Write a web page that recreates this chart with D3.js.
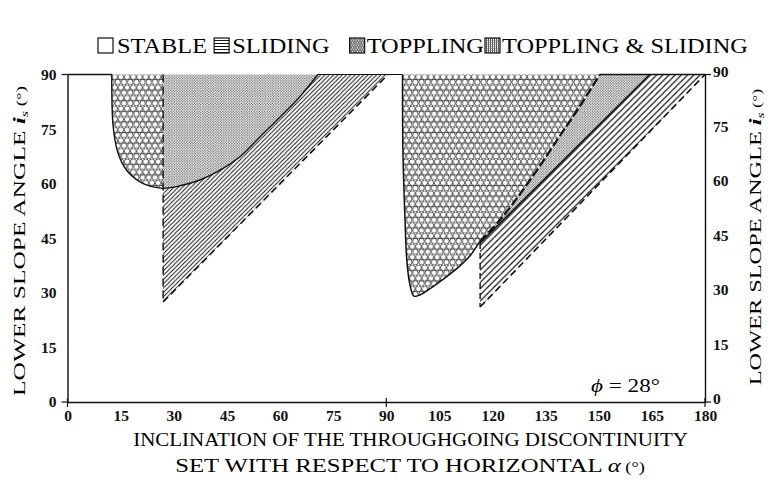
<!DOCTYPE html>
<html><head><meta charset="utf-8">
<script src="https://cdn.jsdelivr.net/npm/d3@7"></script>
<style>
html,body{margin:0;padding:0;background:#fff;}
svg{display:block;font-family:"Liberation Serif","DejaVu Serif",serif;}
</style></head>
<body>
<svg id="c" width="774" height="485"></svg>
<script>
// ---- data (degrees) ----
const xTicks = [0,15,30,45,60,75,90,105,120,135,150,165,180];
const yTicks = [0,15,30,45,60,75,90];
const phi = 28;
// toppling zone 1: lower boundary curve (alpha, i)
const topple1Curve = [[12.5,90],[12.9,75.7],[14.3,68.3],[16.7,63.7],[20.5,60.5],[24.2,59.1],[27,58.7]];
// upper boundary of sliding zone 1 (= lower boundary of toppling & sliding zone 1)
const slideTop1 = [[27,58.7],[30.8,59.2],[37.4,61.0],[43.1,63.7],[48.7,67.4],[54.4,72.9],[60.1,78.4],[65.6,83.9],[70.7,90]];
// lower (dashed) boundary of sliding zone 1
const slideBase1 = [[27,27.5],[90.5,90]];
// toppling zone 2: lower-left curve
const topple2Curve = [[94.6,90],[94.7,69.2],[95.3,50.0],[95.8,39.0],[96.7,32.2],[97.8,29.1],[99.5,29.4],[102.3,31.1],[106.6,34.1],[110.8,37.4],[113.6,40.1],[116.5,44.2]];
// toppling zone 2: right (dashed) edge towards top
const topple2Edge = [[116.5,44.2],[122.1,50.0],[127.8,57.2],[133.4,64.9],[139.0,73.1],[144.7,81.3],[150.3,90]];
// sliding zone 2
const slideTop2 = [[116.5,43.7],[164.4,90]];
const slideBase2 = [[116.5,26.1],[180,90]];
// legend
const legendLabels = ["STABLE","SLIDING","TOPPLING","TOPPLING & SLIDING"];

const svg = d3.select("#c");
const X = d3.scaleLinear().domain([0,180]).range([67.5,705]);
const Y = d3.scaleLinear().domain([0,90]).range([402,74.5]);
const curve = d3.line().x(d=>X(d[0])).y(d=>Y(d[1])).curve(d3.curveCatmullRom.alpha(0.5));
const straight = d3.line().x(d=>X(d[0])).y(d=>Y(d[1]));
const L = pts => pts.map(p=>`L${X(p[0])},${Y(p[1])}`).join("");

// ---- patterns ----
const defs = svg.append("defs");
(function(){
  const w=6.2, h=10.6, r=2.8;
  const p = defs.append("pattern").attr("id","hex").attr("patternUnits","userSpaceOnUse").attr("width",w).attr("height",h);
  p.append("rect").attr("width",w).attr("height",h).attr("fill","#fff");
  [[w/2,h/4],[0,3*h/4],[w,3*h/4]].forEach(c=>p.append("circle").attr("cx",c[0]).attr("cy",c[1]).attr("r",r)
    .attr("fill","none").attr("stroke","#1a1a1a").attr("stroke-width",0.75));
})();
const st = defs.append("pattern").attr("id","stip").attr("patternUnits","userSpaceOnUse").attr("width",2.6).attr("height",2.6);
st.append("rect").attr("width",2.6).attr("height",2.6).attr("fill","#fff");
st.append("circle").attr("cx",0.65).attr("cy",0.65).attr("r",0.62).attr("fill","#333");
st.append("circle").attr("cx",1.95).attr("cy",1.95).attr("r",0.62).attr("fill","#333");
function hatch(id,w,sw){
  const p = defs.append("pattern").attr("id",id).attr("patternUnits","userSpaceOnUse").attr("width",w).attr("height",w);
  p.append("rect").attr("width",w).attr("height",w).attr("fill","#fff");
  p.append("path").attr("d",`M0,${w}L${w},0M-1,1L1,-1M${w-1},${w+1}L${w+1},${w-1}`)
    .attr("stroke","#111").attr("stroke-width",sw);
}
hatch("hatch1",4.3,1.0);
hatch("hatch2",6.2,1.2);
const hz = defs.append("pattern").attr("id","horiz").attr("patternUnits","userSpaceOnUse").attr("width",4).attr("height",3);
hz.append("rect").attr("width",4).attr("height",3).attr("fill","#fff");
hz.append("line").attr("x1",0).attr("x2",4).attr("y1",1.5).attr("y2",1.5).attr("stroke","#111").attr("stroke-width",1);
const gr = defs.append("pattern").attr("id","grid").attr("patternUnits","userSpaceOnUse").attr("width",2).attr("height",2);
gr.append("rect").attr("width",2).attr("height",2).attr("fill","#fff");
gr.append("rect").attr("width",1).attr("height",2).attr("fill","#555");
gr.append("rect").attr("width",2).attr("height",0.6).attr("fill","#777");
const hexL = defs.append("pattern").attr("id","hexL").attr("patternUnits","userSpaceOnUse").attr("width",5).attr("height",4.4);
hexL.append("rect").attr("width",5).attr("height",4.4).attr("fill","#fff");
[[1.25,1.1],[3.75,1.1],[0,3.3],[2.5,3.3],[5,3.3]].forEach(c=>hexL.append("circle").attr("cx",c[0]).attr("cy",c[1]).attr("r",1.1).attr("fill","none").attr("stroke","#222").attr("stroke-width",0.6));

// ---- regions ----
const g = svg.append("g");
g.append("path").attr("d", curve(topple1Curve)+L([[27,90]])+"Z").attr("fill","url(#hex)");
g.append("path").attr("d", curve(slideTop1)+L([[27,90]])+"Z").attr("fill","url(#stip)");
g.append("path").attr("d", curve(slideTop1)+L([[90.5,90],[27,27.5]])+"Z").attr("fill","url(#hatch1)");
g.append("path").attr("d", curve(topple2Curve)+curve(topple2Edge).replace(/^M/,"L")+"Z").attr("fill","url(#hex)");
g.append("path").attr("d", curve(topple2Edge)+L([[164.4,90],[116.5,43.7]])+"Z").attr("fill","url(#stip)");
g.append("path").attr("d", straight([slideBase2[0],slideTop2[0],slideTop2[1],slideBase2[1]])+"Z").attr("fill","url(#hatch2)");

// ---- boundary lines ----
const solid = (d,w)=>g.append("path").attr("d",d).attr("fill","none").attr("stroke","#111").attr("stroke-width",w||1.3);
const dashed = (d,w,da)=>g.append("path").attr("d",d).attr("fill","none").attr("stroke","#111").attr("stroke-width",w||1.5).attr("stroke-dasharray",da||"7,4");
solid(straight([[0,90],[12.5,90]]),1.5);
solid(curve(topple1Curve),1.4);
solid(curve(slideTop1),1.4);
solid(straight([[70.7,90],[94.6,90]]),1.2);
solid(curve(topple2Curve),1.5);
dashed(curve(topple2Edge),2.2,"9,3");
solid(straight(slideTop2),1.6);
solid(straight([[150.3,90],[180,90]]),1.5);
dashed(straight([[27,90],[27,slideBase1[0][1]]]),1.4,"8,4");
dashed(straight(slideBase1),1.6,"7,4");
dashed(straight([slideTop2[0],slideBase2[0]]),1.4,"6,4");
dashed(straight(slideBase2),1.6,"7,4");

// ---- axes ----
const fontTick = "bold 15.5px 'Liberation Serif', serif";
const ax = svg.append("g").attr("transform",`translate(0,${Y(0)})`)
  .call(d3.axisBottom(X).tickValues(xTicks).tickSize(0).tickPadding(8));
const ay = svg.append("g").attr("transform",`translate(${X(0)},0)`)
  .call(d3.axisLeft(Y).tickValues(yTicks).tickSize(0).tickPadding(11));
const ay2 = svg.append("g").attr("transform",`translate(${X(180)},-3)`)
  .call(d3.axisRight(Y).tickValues(yTicks).tickSize(0).tickPadding(8));
[ax,ay,ay2].forEach(a=>{
  a.select(".domain").attr("stroke","#111").attr("stroke-width",1.4);
  a.selectAll("text").style("font",fontTick).attr("fill","#111");
});
ay2.select(".domain").attr("transform","translate(0,3)");
// small end ticks
[0,90,180].forEach(v=>svg.append("line").attr("x1",X(v)).attr("x2",X(v)).attr("y1",Y(0)-4).attr("y2",Y(0)+5).attr("stroke","#111").attr("stroke-width",1.2));
[0,90].forEach(v=>{
  svg.append("line").attr("x1",X(0)-6).attr("x2",X(0)).attr("y1",Y(v)).attr("y2",Y(v)).attr("stroke","#111").attr("stroke-width",1.2);
  svg.append("line").attr("x1",X(180)).attr("x2",X(180)+6).attr("y1",Y(v)).attr("y2",Y(v)).attr("stroke","#111").attr("stroke-width",1.2);
});

// ---- text helper: fit to target width by horizontal scaling ----
function fit(t, x, y, target, rot){
  const w = t.node().getComputedTextLength();
  const s = target / w;
  t.attr("transform", `translate(${x},${y})${rot?" rotate(-90)":""} scale(${s},1)`);
  return t;
}
const tfont = "19px 'Liberation Serif', serif";
const t1 = svg.append("text").attr("text-anchor","middle").style("font",tfont)
  .text("INCLINATION OF THE THROUGHGOING DISCONTINUITY");
fit(t1, 410.5, 446, 555);
const t2 = svg.append("text").attr("text-anchor","middle").style("font",tfont);
t2.append("tspan").text("SET WITH RESPECT TO  HORIZONTAL ");
t2.append("tspan").style("font-style","italic").text("α");
t2.append("tspan").style("font-size","14px").text(" (°)");
fit(t2, 410, 472, 470);

function yTitle(x,y,len){
  const t = svg.append("text").attr("text-anchor","middle").style("font","17.5px 'Liberation Serif', serif");
  t.append("tspan").text("LOWER SLOPE ANGLE ");
  t.append("tspan").style("font-style","italic").style("font-weight","bold").text("i");
  t.append("tspan").style("font-style","italic").style("font-size","11px").attr("dy",3).text("s");
  t.append("tspan").style("font-size","13px").attr("dy",-3).text(" (°)");
  fit(t, x, y, len, true);
}
yTitle(25,241,310);
yTitle(761,237,297);

// phi label
const ph = svg.append("text").style("font","18px 'Liberation Serif', serif");
ph.append("tspan").style("font-style","italic").text("ϕ");
ph.append("tspan").text(" = "+phi+"°");
fit(ph, 591, 392, 69);

// ---- legend ----
const legFills = ["#fff","url(#horiz)","url(#hexL)","url(#grid)"];
const gapBefore = [4,3,2,2];   // box -> text
const gapAfter = [7,20,1,0];   // text -> next box
const box = 15, legL = 98, legR = 748, legY = 52.5;
const lt = legendLabels.map(s=>svg.append("text").style("font","20px 'Liberation Serif', serif").text(s));
const nat = lt.map(t=>t.node().getComputedTextLength());
const fixed = 4*box + d3.sum(gapBefore) + d3.sum(gapAfter);
const ls = (legR-legL-fixed)/d3.sum(nat);
let cx = legL;
lt.forEach((t,i)=>{
  svg.append("rect").attr("x",cx).attr("y",38).attr("width",box).attr("height",box)
    .attr("fill",legFills[i]).attr("stroke","#111").attr("stroke-width",1.2);
  cx += box + gapBefore[i];
  t.attr("transform",`translate(${cx},${legY}) scale(${ls},1)`);
  cx += nat[i]*ls + gapAfter[i];
});
</script>
</body></html>
